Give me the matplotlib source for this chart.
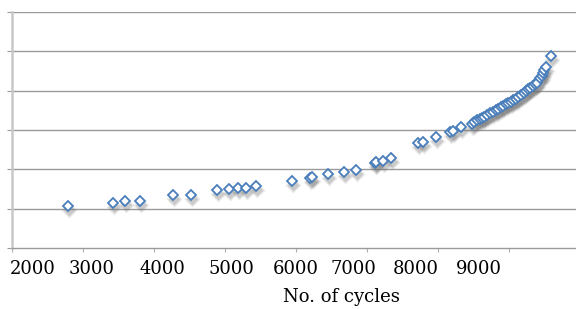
import numpy as np
import matplotlib
matplotlib.use("Agg")
import matplotlib.pyplot as plt
import matplotlib.transforms as mtransforms

# data (y axis has no labels, one unit per gridline)
cycles = [2790, 3420, 3590, 3800, 4270, 4520, 4890, 5050, 5190, 5300, 5440,
          5950, 6200, 6230, 6455, 6680, 6845, 7110, 7130, 7230, 7340,
          7720, 7790, 7970, 8170, 8210, 8320, 8475, 8510, 8554, 8585,
          8615, 8650, 8694, 8735, 8779, 8815, 8849, 8885, 8920, 8955,
          8990, 9025, 9061, 9095, 9131, 9170, 9211, 9240, 9272, 9300,
          9334, 9360, 9390, 9437, 9460, 9483, 9500, 9521, 9587]
values = [1.07, 1.15, 1.19, 1.19, 1.36, 1.36, 1.47, 1.49, 1.52, 1.52, 1.58,
          1.71, 1.77, 1.80, 1.87, 1.94, 1.98, 2.15, 2.18, 2.22, 2.28,
          2.66, 2.70, 2.81, 2.96, 2.98, 3.07, 3.15, 3.20, 3.25, 3.27,
          3.30, 3.34, 3.38, 3.43, 3.47, 3.50, 3.53, 3.58, 3.62, 3.65,
          3.68, 3.72, 3.76, 3.80, 3.85, 3.90, 3.95, 3.99, 4.03, 4.07,
          4.12, 4.16, 4.20, 4.31, 4.38, 4.46, 4.52, 4.61, 4.88]
x_ticks = [2000, 3000, 4000, 5000, 6000, 7000, 8000, 9000]
x_labels = ["2000", "3000", "4000", "5000", "6000", "7000", "8000", "9000"]
y_grid = [1, 2, 3, 4, 5, 6]

fig = plt.figure(figsize=(5.76, 3.09), dpi=100)
ax = fig.add_axes([12/576, 1 - 248/309, 564/576, 236/309])
ax.set_xlim(2000, 9944)
ax.set_ylim(0, 6)

for g in y_grid:
    ax.axhline(g, color="#9a9a9a", lw=1.0, zorder=1)

# soft shadow under the markers
for dx, dy, ms, a in [(1, -4, 8, 0.15), (1, -4, 6.5, 0.25)]:
    sh = mtransforms.offset_copy(ax.transData, fig=fig, x=dx, y=dy, units="dots")
    ax.plot(cycles, values, ls="none", marker="D", ms=ms, mfc="#707070",
            mec="none", alpha=a, transform=sh, zorder=2)

ax.plot(cycles, values, ls="none", marker="D", ms=4.6, mfc="white",
        mec="#4a7ebb", mew=1.3, zorder=3)

for side in ["top", "right"]:
    ax.spines[side].set_visible(False)
ax.spines["left"].set_color("#c8c8c8")
ax.spines["left"].set_linewidth(1.8)
ax.spines["bottom"].set_color("#9a9a9a")
ax.spines["bottom"].set_linewidth(1.0)

ax.set_yticks([0] + y_grid)
ax.set_yticklabels([])
ax.tick_params(axis="y", direction="out", length=3.6, width=0.8, color="#9a9a9a")

ax.set_xticks(x_ticks)
ax.set_xticklabels(x_labels, fontfamily="DejaVu Serif", fontsize=13)
ax.tick_params(axis="x", direction="out", length=3, width=0.8, color="#b0b0b0", pad=6)

# the reference squeezes its tick labels towards the middle
label_dx = [21, 9, 8, 6, 0, -14, -22, -30]
for lab, d in zip(ax.get_xticklabels(), label_dx):
    lab.set_transform(lab.get_transform() + mtransforms.Affine2D().translate(d, 0))

ax.set_xlabel("No. of cycles", fontfamily="DejaVu Serif", fontsize=13, labelpad=2)
ax.xaxis.set_label_coords((341 - 12) / 564, -0.17)

fig.savefig("out.png", dpi=100)
